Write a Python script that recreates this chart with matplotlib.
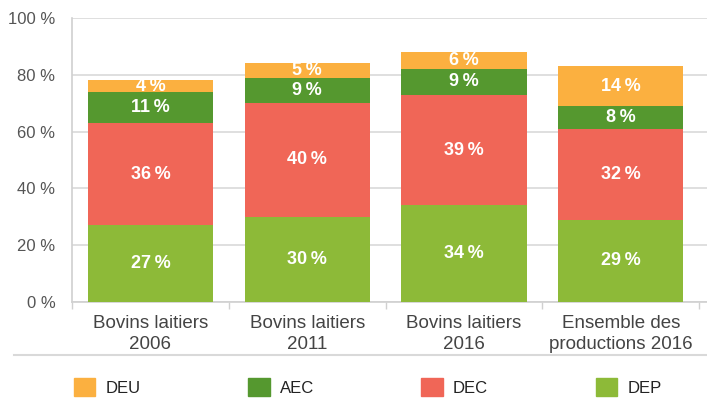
import matplotlib.pyplot as plt
import matplotlib.patches as mpatches
from matplotlib.lines import Line2D
import numpy as np

plt.rcParams['font.family'] = ['Liberation Sans', 'DejaVu Sans']

categories = ['Bovins laitiers\n2006', 'Bovins laitiers\n2011', 'Bovins laitiers\n2016', 'Ensemble des\nproductions 2016']
series = ['DEP', 'DEC', 'AEC', 'DEU']
values = {
    'DEP': [27, 30, 34, 29],
    'DEC': [36, 40, 39, 32],
    'AEC': [11, 9, 9, 8],
    'DEU': [4, 5, 6, 14],
}
colors = {'DEU': '#fbb040', 'AEC': '#55982f', 'DEC': '#f06657', 'DEP': '#8dba38'}
yticks = [0, 20, 40, 60, 80, 100]

fig = plt.figure(figsize=(7.07, 4.05), dpi=100)
ax = fig.add_axes([0.102, 0.254, 0.898, 0.702])

x = np.arange(len(categories))
bottom = np.zeros(len(categories))
for s in series:
    v = np.array(values[s])
    ax.bar(x, v, 0.8, bottom=bottom, color=colors[s], zorder=3)
    for xi, b, vi in zip(x, bottom, v):
        ax.text(xi, b + vi / 2, f'{vi}\u2009%', ha='center', va='center', color='white',
                fontsize=13, fontweight='bold', zorder=4)
    bottom += v

ax.set_ylim(0, 100)
ax.set_xlim(-0.5, 3.55)
ax.set_yticks(yticks)
ax.set_yticklabels([f'{t} %' for t in yticks], color='#555555', fontsize=12)
ax.yaxis.grid(True, color='#d9d9d9', linewidth=1.2, zorder=0)
ax.tick_params(axis='y', length=0, pad=12)

ax.set_xticks(x)
ax.set_xticklabels(categories, color='#444444', fontsize=13.5, linespacing=1.35)
ax.tick_params(axis='x', which='major', length=0, pad=9)
ax.set_xticks([-0.5, 0.5, 1.5, 2.5, 3.5], minor=True)
ax.tick_params(axis='x', which='minor', length=5, color='#d0d0d0', width=1)

for side in ['top', 'right']:
    ax.spines[side].set_visible(False)
ax.spines['left'].set_color('#d0d0d0')
ax.spines['bottom'].set_color('#d0d0d0')
ax.spines['left'].set_linewidth(1.2)
ax.spines['bottom'].set_linewidth(1.2)

fig.add_artist(Line2D([0.02, 1.0], [0.123, 0.123], color='#d9d9d9', linewidth=1.5))

handles = [mpatches.Patch(color=colors[s], label=s) for s in ['DEU', 'AEC', 'DEC', 'DEP']]
fig.legend(handles=handles, loc='lower left', bbox_to_anchor=(0.095, 0.005, 0.85, 0.09),
           mode='expand', ncol=4, frameon=False, fontsize=12, handlelength=1.3,
           handleheight=1.3, handletextpad=0.6, borderaxespad=0, labelcolor='#222222')

fig.savefig('out.png', dpi=100)
